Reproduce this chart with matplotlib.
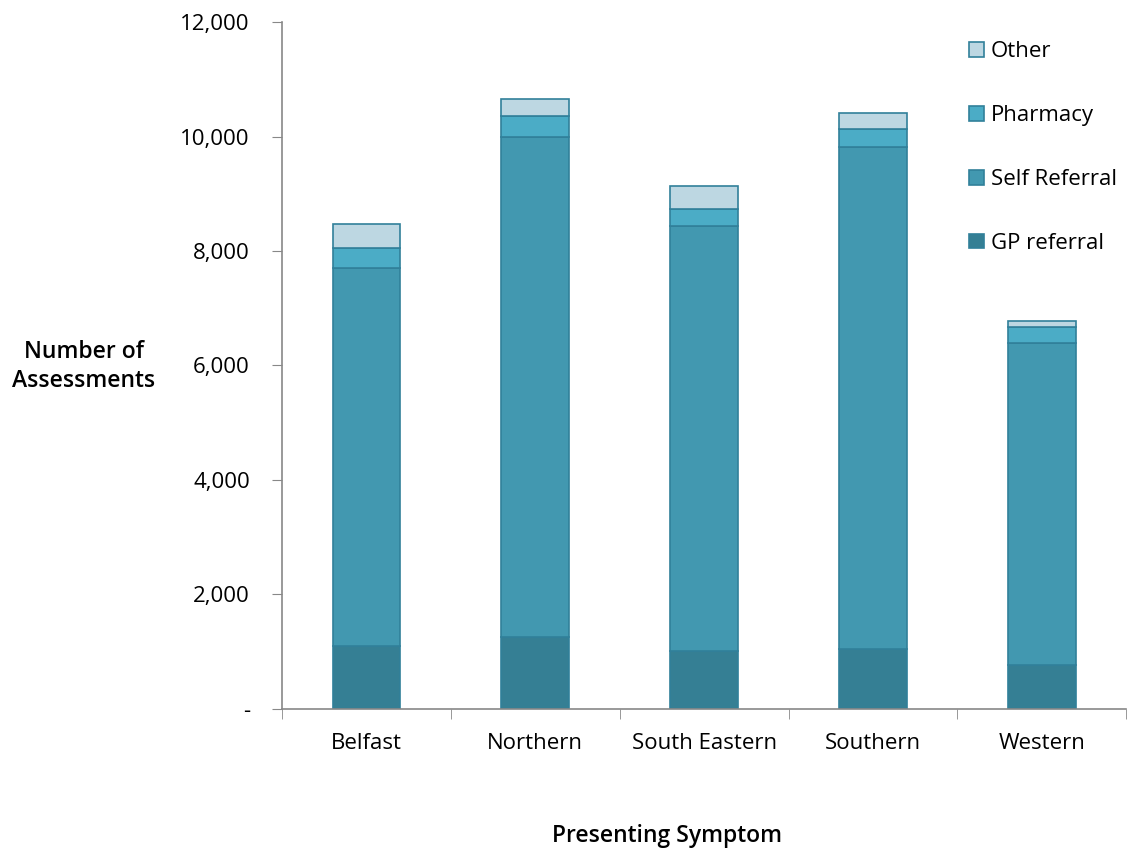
import numpy as np
import matplotlib.pyplot as plt
from matplotlib.ticker import FuncFormatter

regions = ['Belfast', 'Northern', 'South Eastern', 'Southern', 'Western']
gp_referral = [1100, 1260, 1010, 1045, 770]
self_referral = [6600, 8740, 7425, 8770, 5625]
pharmacy = [350, 365, 295, 320, 270]
other = [425, 300, 405, 285, 115]

series = [('GP referral', gp_referral, '#357F94'),
          ('Self Referral', self_referral, '#4298B0'),
          ('Pharmacy', pharmacy, '#4BACC6'),
          ('Other', other, '#BDD7E2')]

plt.rcParams['font.family'] = ['Open Sans', 'DejaVu Sans']

fig = plt.figure(figsize=(11.32, 8.5), dpi=100)
ax = fig.add_axes([0.249, 0.166, 0.746, 0.808])

ind = np.arange(len(regions))
bottom = np.zeros(len(regions))
for name, vals, col in series:
    ax.bar(ind, vals, 0.4, bottom=bottom, color=col, edgecolor='#31809A',
           linewidth=1.2, label=name)
    bottom += np.array(vals)

ax.set_xlim(-0.5, len(regions) - 0.5)
ax.set_ylim(0, 12000)
ax.set_yticks(np.arange(0, 12001, 2000))
ax.yaxis.set_major_formatter(FuncFormatter(lambda v, p: '-' if v == 0 else f'{int(v):,}'))
ax.set_xticks(ind)
ax.set_xticklabels(regions)
ax.set_xticks(np.arange(-0.5, len(regions)), minor=True)
ax.tick_params(axis='x', which='major', length=0, pad=17, labelsize=16)
ax.tick_params(axis='x', which='minor', length=7, color='#888888', direction='out')
ax.tick_params(axis='y', length=7, color='#888888', pad=16, labelsize=16)

for s in ['top', 'right']:
    ax.spines[s].set_visible(False)
for s in ['left', 'bottom']:
    ax.spines[s].set_color('#888888')
    ax.spines[s].set_linewidth(1.2)

fig.text(0.074, 0.569, 'Number of\nAssessments', ha='center', va='center',
         fontsize=16.5, fontweight='semibold', linespacing=1.3)
fig.text(0.589, 0.016, 'Presenting Symptom', ha='center', va='center',
         fontsize=16.5, fontweight='semibold')

handles, labels = ax.get_legend_handles_labels()
leg = fig.legend(handles[::-1], labels[::-1], loc='upper left',
                 bbox_to_anchor=(0.8485, 0.962), frameon=False, fontsize=16,
                 labelspacing=1.93, handlelength=0.65, handleheight=0.65,
                 handletextpad=0.3, borderaxespad=0)

fig.savefig('out.png', dpi=100)
